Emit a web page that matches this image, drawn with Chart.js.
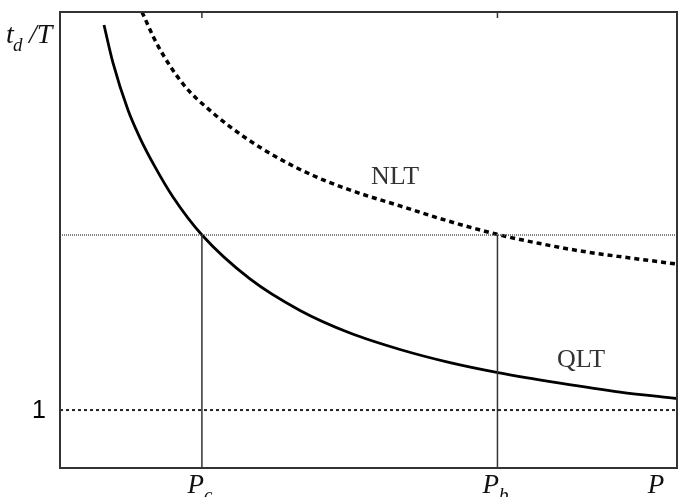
<!DOCTYPE html>
<html>
<head>
<meta charset="utf-8">
<script src="https://cdn.jsdelivr.net/npm/chart.js@4.4.1/dist/chart.umd.min.js"></script>
<style>
  html, body { margin: 0; padding: 0; background: #fff; }
  #wrap { width: 684px; height: 497px; }
</style>
</head>
<body>
<div id="wrap"><canvas id="chart"></canvas></div>
<script>
/***** Data *****/
// QLT curve (solid)
let QLT_P = [0.713, 0.859, 1.102, 1.297, 1.540, 1.831, 2.301, 3.079, 3.890, 4.700, 5.511, 6.321, 7.099, 8.104, 9.076, 10.0];
let QLT_T = [3.200, 2.983, 2.714, 2.554, 2.389, 2.217, 2.000, 1.749, 1.569, 1.440, 1.346, 1.271, 1.214, 1.154, 1.103, 1.066];
// NLT curve (dashed)
let NLT_P = [1.329, 1.572, 1.994, 2.480, 3.031, 3.566, 4.100, 4.651, 5.511, 6.321, 7.083, 7.780, 8.428, 9.238, 10.0];
let NLT_T = [3.274, 3.091, 2.863, 2.697, 2.549, 2.434, 2.340, 2.263, 2.166, 2.077, 2.004, 1.951, 1.909, 1.869, 1.834];
// special points on the P axis and their labels
let P_MARKS = [2.30, 7.09];
let P_LABELS = [["P", "c"], ["P", "b"]];
let P_AXIS_TITLE = "P";
// reference levels of t_d/T
let LEVEL_ONE = 1;
let LEVEL_CROSS = 2;
let Y_TICKS = [1];
let Y_TICK_LABELS = ["1"];
// axis ranges
let X_MIN = 0, X_MAX = 10;
let Y_MIN = 0.669, Y_MAX = 3.274;

function toPoints(xs, ys) {
    let pts = [];
    for (let i = 0; i < xs.length; i++) {
        pts.push({x: xs[i], y: ys[i]});
    }
    return pts;
}

//Horizontal reference lines across the whole range
let levelOneLine = [{x: X_MIN, y: LEVEL_ONE}, {x: X_MAX, y: LEVEL_ONE}];
let levelCrossLine = [{x: X_MIN, y: LEVEL_CROSS}, {x: X_MAX, y: LEVEL_CROSS}];

let datasets = [];
//Vertical drops from the crossing points down to the axis
for (let i = 0; i < P_MARKS.length; i++) {
    datasets.push({
        data: [{x: P_MARKS[i], y: Y_MIN}, {x: P_MARKS[i], y: LEVEL_CROSS}],
        borderColor: "#333", borderWidth: 1.5, pointRadius: 0, tension: 0
    });
}
datasets.push({
    data: levelCrossLine,
    borderColor: "#555", borderWidth: 1.5, borderDash: [1, 1], pointRadius: 0, tension: 0
});
datasets.push({
    data: levelOneLine,
    borderColor: "#222", borderWidth: 2, borderDash: [3, 3], pointRadius: 0, tension: 0
});
datasets.push({
    label: "NLT",
    data: toPoints(NLT_P, NLT_T),
    borderColor: "#000", borderWidth: 3.5, borderDash: [5, 4],
    pointRadius: 0, cubicInterpolationMode: "monotone"
});
datasets.push({
    label: "QLT",
    data: toPoints(QLT_P, QLT_T),
    borderColor: "#000", borderWidth: 2.8,
    pointRadius: 0, cubicInterpolationMode: "monotone"
});

//Frame, ticks and all the texts
let decorations = {
    id: "decorations",
    afterDraw: function (chart) {
        let ctx = chart.ctx;
        let area = chart.chartArea;
        let xs = chart.scales.x;
        let ys = chart.scales.y;
        ctx.save();

        ctx.strokeStyle = "#333";
        ctx.lineWidth = 2;
        ctx.strokeRect(area.left, area.top, area.right - area.left, area.bottom - area.top);

        //inward ticks on the top edge
        ctx.lineWidth = 1.5;
        for (let i = 0; i < P_MARKS.length; i++) {
            let px = xs.getPixelForValue(P_MARKS[i]);
            ctx.beginPath();
            ctx.moveTo(px, area.top);
            ctx.lineTo(px, area.top + 6);
            ctx.stroke();
        }

        ctx.fillStyle = "#111";
        //P axis labels with subscripts
        ctx.textBaseline = "alphabetic";
        for (let i = 0; i < P_MARKS.length; i++) {
            let px = xs.getPixelForValue(P_MARKS[i]);
            ctx.font = "italic 27px 'Liberation Serif'";
            let wMain = ctx.measureText(P_LABELS[i][0]).width;
            ctx.font = "italic 19px 'Liberation Serif'";
            let wSub = ctx.measureText(P_LABELS[i][1]).width;
            let start = px - (wMain + wSub) / 2 - 2;
            ctx.textAlign = "left";
            ctx.font = "italic 27px 'Liberation Serif'";
            ctx.fillText(P_LABELS[i][0], start, area.bottom + 25);
            ctx.font = "italic 19px 'Liberation Serif'";
            ctx.fillText(P_LABELS[i][1], start + wMain, area.bottom + 33);
        }
        ctx.font = "italic 27px 'Liberation Serif'";
        ctx.textAlign = "center";
        ctx.fillText(P_AXIS_TITLE, area.right - 21, area.bottom + 25);

        //y tick label
        ctx.fillStyle = "#000";
        ctx.font = "25px 'Liberation Sans'";
        ctx.textAlign = "right";
        ctx.textBaseline = "middle";
        for (let i = 0; i < Y_TICKS.length; i++) {
            ctx.fillText(Y_TICK_LABELS[i], area.left - 14, ys.getPixelForValue(Y_TICKS[i]) + 1);
        }

        //y axis title t_d /T
        ctx.fillStyle = "#111";
        ctx.textAlign = "left";
        ctx.textBaseline = "alphabetic";
        ctx.font = "italic 28px 'Liberation Serif'";
        ctx.fillText("t", 6, 43);
        ctx.font = "italic 19px 'Liberation Serif'";
        ctx.fillText("d", 13, 51);
        ctx.font = "italic 28px 'Liberation Serif'";
        ctx.fillText("/T", 29, 43);

        //curve names
        ctx.font = "26px 'Liberation Serif'";
        ctx.textAlign = "center";
        ctx.fillStyle = "#333";
        ctx.fillText("NLT", 395, 184);
        ctx.fillText("QLT", 581, 367);

        ctx.restore();
    }
};

new Chart("chart", {
    type: "line",
    data: {datasets: datasets},
    options: {
        responsive: true,
        maintainAspectRatio: false,
        animation: false,
        layout: {padding: {left: 60, right: 7, top: 12, bottom: 29}},
        plugins: {legend: {display: false}, tooltip: {enabled: false}},
        scales: {
            x: {type: "linear", min: X_MIN, max: X_MAX, display: false},
            y: {type: "linear", min: Y_MIN, max: Y_MAX, display: false}
        }
    },
    plugins: [decorations]
});
</script>
</body>
</html>
